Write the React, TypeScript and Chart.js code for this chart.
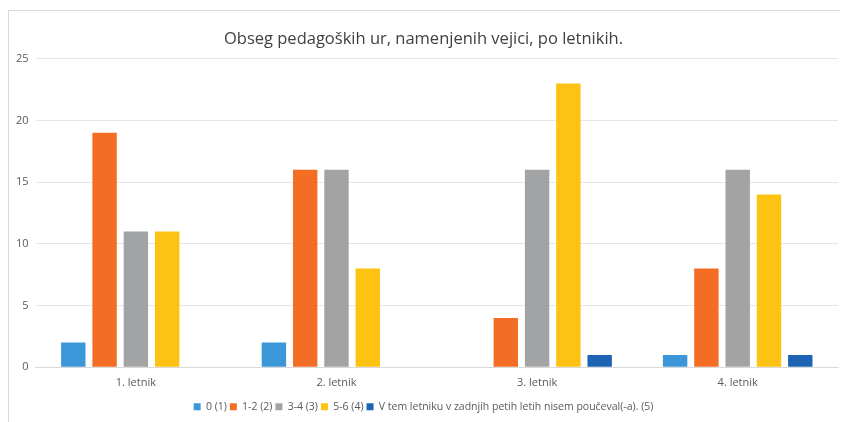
import React, { useEffect, useRef } from "react";
import { Chart, registerables } from "chart.js";

Chart.register(...registerables);

const categories = ["1. letnik", "2. letnik", "3. letnik", "4. letnik"];
const seriesNames = ["0 (1)", "1-2 (2)", "3-4 (3)", "5-6 (4)", "V tem letniku v zadnjih petih letih nisem poučeval(-a). (5)"];
const s1 = [2, 2, 0, 1];
const s2 = [19, 16, 4, 8];
const s3 = [11, 16, 16, 16];
const s4 = [11, 8, 23, 14];
const s5 = [0, 0, 1, 1];
const colors = ["#3c97d8", "#f36e24", "#a1a3a4", "#fec212", "#1e64b5"];
const titleText = "Obseg pedagoških ur, namenjenih vejici, po letnikih.";

export default function App() {
  const ref = useRef<HTMLCanvasElement | null>(null);
  useEffect(() => {
    if (!ref.current) return;
    const values = [s1, s2, s3, s4, s5];
    const font = "'Open Sans', 'Noto Sans', sans-serif";
    const chart = new Chart(ref.current, {
      type: "bar",
      data: {
        labels: categories,
        datasets: values.map((v, i) => ({
          label: seriesNames[i],
          data: v,
          backgroundColor: colors[i],
          borderWidth: 0,
          categoryPercentage: 0.78,
          barPercentage: 0.78,
        })),
      },
      options: {
        animation: false,
        responsive: false,
        maintainAspectRatio: false,
        layout: { padding: { left: 0, right: 10, top: 0, bottom: 0 } },
        plugins: {
          title: {
            display: true,
            text: titleText,
            color: "#404040",
            font: { family: font, size: 16.5, weight: "normal" },
            padding: { top: 18, bottom: 10 },
          },
          legend: {
            position: "bottom",
            labels: {
              boxWidth: 7,
              boxHeight: 7,
              color: "#595959",
              font: { family: font, size: 10.5 },
              padding: 3,
            },
          },
          tooltip: { enabled: false },
        },
        scales: {
          x: {
            grid: { display: false, drawTicks: false },
            border: { display: true, color: "#d9d9d9" },
            ticks: { color: "#595959", font: { family: font, size: 11 }, padding: 9 },
          },
          y: {
            min: 0,
            max: 25,
            ticks: { stepSize: 5, color: "#595959", font: { family: font, size: 11 }, padding: 7 },
            grid: { color: "#e6e6e6", drawTicks: false },
            border: { display: false },
          },
        },
      },
    });
    return () => chart.destroy();
  }, []);
  return (
    <div
      style={{
        marginTop: 2,
        width: 840,
        height: 412,
        borderLeft: "1px solid #d9d9d9",
        borderTop: "1px solid #d9d9d9",
        boxSizing: "border-box",
        overflow: "hidden",
        background: "#fff",
      }}
    >
      <canvas ref={ref} width={839} height={411} style={{ display: "block" }} />
    </div>
  );
}
